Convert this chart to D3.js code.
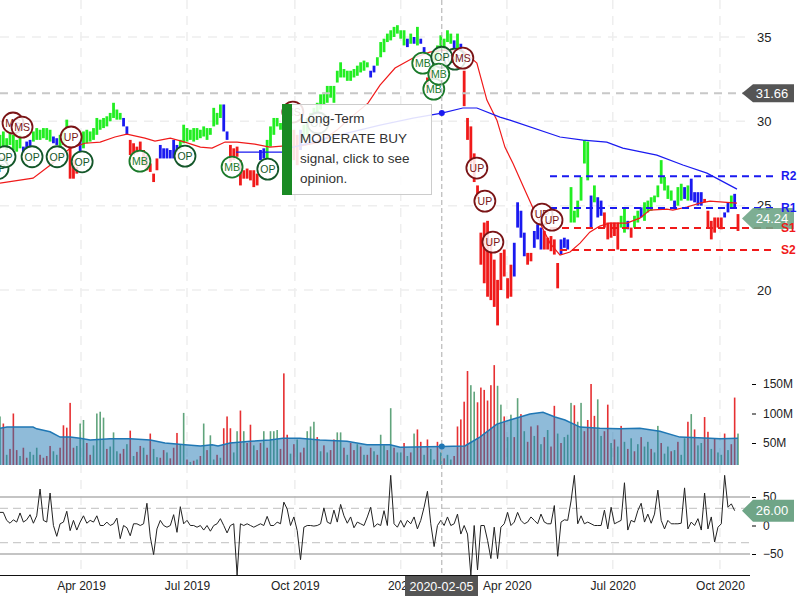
<!DOCTYPE html>
<html><head><meta charset="utf-8">
<script src="https://cdnjs.cloudflare.com/ajax/libs/d3/7.8.5/d3.min.js"></script>
<style>html,body{margin:0;padding:0;background:#fff}svg{display:block;font-family:"Liberation Sans",Arial,sans-serif}</style>
</head><body><svg id="c" width="800" height="600"></svg>
<script>
// Sessions run on a two-trading-day grid: index 0..221
const tickIndex = [24.25, 56, 88.3, 120, 151.8, 183.5, 215.6];
const tickLabels = ["Apr 2019","Jul 2019","Oct 2019","2020","Apr 2020","Jul 2020","Oct 2020"];
const priceTicks = [20,25,30,35];
const volumeTicks = [50,100,150];
const cciTicks = [-50,0,50];

const priceHigh = [
29.2,29.4,29.0,29.5,29.2,28.9,29.2,28.5,28.8,28.9,
29.4,29.6,29.5,29.6,29.6,29.5,29.1,29.0,29.2,29.5,
30.1,28.5,27.7,27.3,28.9,29.4,29.5,29.4,29.6,30.2,
30.1,30.2,30.3,30.5,31.1,30.7,30.5,30.2,29.7,28.9,
28.7,28.5,28.8,28.3,28.0,27.5,26.9,27.8,28.6,28.4,
28.4,28.3,28.9,28.6,28.9,29.8,29.6,29.5,29.6,29.6,
29.5,29.7,29.6,29.6,30.8,30.5,31.0,31.0,29.4,28.6,
28.4,28.5,27.7,27.1,27.2,27.1,27.1,26.9,28.3,28.4,
28.9,29.7,30.2,30.2,29.9,29.8,29.8,29.6,29.5,29.2,
29.5,29.8,30.2,30.5,30.8,31.1,31.6,31.7,32.1,32.1,
32.1,33.0,33.5,33.1,33.0,33.0,33.1,33.3,33.5,33.6,
33.5,33.0,33.3,33.8,34.7,34.9,35.2,35.4,35.6,35.7,
35.4,35.4,34.9,35.2,35.0,35.6,34.9,34.4,32.6,33.3,
34.2,34.5,35.1,34.9,35.4,35.2,34.8,35.2,34.6,33.0,
30.2,29.7,28.1,26.2,23.4,24.0,24.1,23.0,21.8,20.6,
22.2,22.4,20.7,21.5,22.8,25.2,24.7,23.4,22.2,22.2,
23.5,23.9,23.7,23.5,23.1,23.2,23.0,21.6,23.0,23.1,
23.0,26.1,24.7,25.3,26.7,28.9,28.8,25.6,26.2,25.5,
25.3,24.6,24.0,24.0,24.0,24.0,24.4,24.9,24.1,23.7,
24.4,24.7,24.9,25.2,25.3,25.5,25.6,26.2,27.7,26.7,
26.2,25.9,25.3,26.1,26.3,26.1,26.2,26.6,25.8,25.8,
25.8,25.4,24.7,24.1,24.3,24.3,24.3,24.6,25.2,25.6,
25.7,24.5];
const priceLow = [
28.4,28.5,28.3,28.6,28.3,28.2,28.4,28.1,28.4,28.5,
28.8,28.9,28.9,29.0,28.9,28.8,28.7,28.6,28.5,28.6,
29.6,26.6,26.6,26.9,28.2,28.4,28.7,28.8,28.9,29.2,
29.5,29.6,29.7,30.0,30.2,30.1,30.1,29.7,29.2,28.0,
28.0,28.1,28.2,27.4,27.1,27.0,26.4,27.1,27.8,27.8,
27.8,27.8,27.8,28.2,28.3,28.7,28.8,28.9,28.8,28.9,
29.0,29.1,28.9,29.2,29.7,29.8,30.2,29.4,28.9,27.6,
27.7,27.9,26.2,26.6,26.6,26.5,26.1,26.2,27.7,27.8,
27.8,28.5,29.2,29.7,29.5,29.4,29.2,28.3,27.7,27.4,
28.3,28.9,29.2,29.8,29.8,30.2,30.7,31.0,31.1,31.4,
31.1,32.3,32.6,32.6,32.4,32.4,32.6,32.7,32.9,33.0,
33.2,32.6,32.9,33.3,33.8,34.1,34.7,34.8,35.0,35.2,
34.9,34.5,34.4,34.6,34.6,34.5,34.6,34.1,32.0,32.4,
33.0,33.6,34.2,34.3,34.7,34.6,34.2,34.3,34.2,30.9,
28.9,27.5,26.4,25.4,21.5,20.4,19.6,19.4,19.0,17.9,
20.0,20.8,19.5,19.6,20.8,23.7,23.1,22.0,21.5,21.7,
22.5,23.0,22.4,22.4,22.4,22.3,22.1,20.1,22.1,22.5,
22.4,24.0,24.0,24.3,25.3,27.5,26.5,23.7,25.2,24.3,
24.4,23.7,23.0,23.1,23.2,22.4,23.7,23.4,23.6,23.1,
23.7,24.0,24.3,24.1,24.6,24.7,25.2,25.5,26.3,25.9,
25.4,25.3,24.9,25.0,25.3,25.4,25.3,25.3,25.2,25.0,
25.0,25.2,23.7,23.0,23.4,23.7,23.6,24.3,24.6,24.9,
24.9,23.5];
const trendLengths = [7,3,6,2,3,3,1,12,2,9,6,13,2,9,2,8,2,1,20,2,9,1,1,1,1,2,2,6,1,1,1,15,4,2,3,5,3,6,1,1,2,5,2,1,1,2,1,9,1,2,1,1,4,6,2,1,1,1];
const trendCodes   = "gbgbgrbgbrbgbrbgrbgbgbgbgbrgbgbrbrbrbgbgbrgbrgbgbgbgbrbgbr";

const ma50Index = [0,9.9,15,21,25.4,30,34.4,38,43.4,46.4,51,55.4,60,63.5,67.4,71,76.3,80.8,84.4,89.8,95.8,100.9,104.8,110.2,113.8,118.3,123.7,128.7,133.2,138.6,142.8,145.8,148.8,151.2,153.6,157.2,159.6,162.3,164.7,167.7,170.7,173.7,176.6,179.6,182.6,187.7,191.6,194.6,199.7,201.5,205.7,209.6,212.6,220.7];
const ma50Value = [26.34,26.63,27.4,28.4,28.7,28.77,29.07,29.24,29.0,28.83,29.0,28.77,28.47,28.41,28.77,28.77,28.65,28.47,28.53,28.53,28.77,29.48,30.19,31.08,32.15,33.16,33.75,34.1,34.22,34.2,33.45,31.26,30.07,28.47,27.52,25.92,24.86,23.73,22.78,22.07,22.25,22.78,23.43,23.79,23.97,23.97,24.26,24.74,24.8,24.74,24.92,25.15,25.27,25.15];
const ma200Index = [70.7,84.7,86.8,103.9,113.8,123.7,132.3,138.6,142.8,149.7,152.7,167.7,174.6,181.7,186.5,196.7,204.5,211.7,220.7];
const ma200Value = [28.18,28.18,28.41,29.3,29.78,30.19,30.49,30.79,30.79,30.25,30.07,29.07,28.89,28.77,28.41,28.0,27.41,26.93,25.98];

const levelNames  = ["R2","R1","S1","S2"];
const levelValues = [26.75,24.86,23.67,22.37];
const levelStart  = [164.7,164.7,164.7,167.7];
const levelColors = ["#1a1af0","#1a1af0","#f01a1a","#f01a1a"];

const volume = [
95,83,30,40,100,38,28,42,25,35,
30,42,30,25,28,45,36,30,42,80,
76,118,42,45,83,89,50,30,46,100,
103,93,40,44,68,36,32,40,48,71,
28,35,45,42,30,66,40,26,25,38,
34,24,42,67,48,101,22,18,20,22,
28,83,38,63,22,30,25,75,95,75,
34,70,105,70,50,81,46,38,50,70,
42,70,70,72,40,168,64,32,48,56,
34,42,70,78,86,60,36,46,34,38,
56,68,68,42,30,50,38,48,44,30,
30,42,36,30,64,46,38,109,42,34,
34,50,28,34,66,73,52,30,56,40,
22,52,34,24,30,22,28,78,90,120,
172,148,137,119,144,140,122,148,182,147,
115,95,60,98,60,126,99,70,52,78,
62,80,48,60,72,44,113,66,50,60,
64,118,114,86,118,70,89,150,96,124,
62,70,115,50,56,44,79,52,40,58,
36,48,60,44,52,40,34,79,50,32,
44,36,38,52,30,58,86,99,73,46,
50,94,69,40,58,34,30,66,38,48,
127,66];
const volumeSide = "grgrrrgrrg"+"ggrrrrggrr"+"rrrgggrrgg"+"ggrgggrrgr"+"grrgrrggrr"+"grrrggrgrg"+"rgrggrgrrr"+"ggrgrrgrrg"+"rgggrrrgrg"+"rrgggrgrgr"+"rggrgrrgrg"+"rrgrggrgrg"+"grgrgrrgrg"+"grgrggrrrr"+"rggrrrrrrg"+"grggrgrgrr"+"grgrgrrgrg"+"ggrggrrrrg"+"grrgrgrgrg"+"rgrggrggrg"+"grgrggrgrg"+"grrgrggrgr"+"rg";
const volAvgIndex = [0,2.1,9.9,11,15,18,21,24,27,33,39,45,49.4,55.4,60,63.5,65.3,68.9,74.9,80.8,84.7,89.8,95.8,103.9,109.9,116.8,119.8,132.3,139.2,140.7,143.7,148.8,152.7,158.7,162.6,166.2,169.2,173.7,179.6,185.6,191.6,197.6,203.6,212.6,215.6,221];
const volAvgValue = [75,77,77,74,69,60,60,58,55,57,57,55,50,47,45,47,45,50,53,55,58,58,55,53,47,47,43,44,45,50,60,82,89,99,102,94,89,77,75,74,75,70,60,58,57,58];

const cci = [
23,23,9,4,10,6,22,6,10,19,4,17,64,9,6,57,0,-19,3,6,
25,-9,9,-8,6,17,4,9,6,17,0,0,6,0,3,13,-23,0,-4,-18,
3,3,0,3,39,-20,-51,-6,9,0,-3,0,19,-12,33,3,9,0,0,-3,
0,-8,0,-10,0,3,12,0,-13,0,3,-87,3,0,3,0,-3,0,3,0,
16,0,0,6,3,41,29,0,15,-9,-60,-3,0,0,-1,0,3,31,6,3,
27,6,37,17,4,15,-4,6,3,0,15,32,-3,3,0,26,0,88,3,-3,
9,-3,9,3,15,-6,9,32,60,3,-37,0,9,0,15,0,3,20,-15,0,
-15,-87,0,-78,0,0,-26,-58,-3,-58,-3,3,23,0,6,23,9,3,6,15,
9,3,20,6,3,3,35,-54,6,10,9,43,88,3,17,3,6,3,0,0,
0,27,-6,32,3,6,9,75,-8,9,6,26,39,6,20,4,20,62,9,-6,
9,3,3,3,4,66,-6,6,0,12,-8,57,-6,15,-29,-3,3,88,32,38,26];
const cciBands = [-30,30];
const cciLimits = [-50,50];

const markerIndex = [-0.6,1.5,3.9,6.6,9.6,17.1,21.3,24.6,41.9,55.4,69.5,80.2,87.7,95.2,129.9,126.6,136.2,132.3,131.4,138.6,142.8,145.2,147.6,162.3,165.3];
const markerPrice = [27.2,27.9,29.9,29.66,27.9,27.9,29.07,27.6,27.64,27.94,27.29,27.17,30.55,29.9,31.91,33.45,33.69,33.8,32.8,33.75,27.23,25.27,22.84,24.5,24.14];
const markerLabel = ["OP","OP","MS","MS","OP","OP","UP","OP","MB","OP","MB","OP","MS","OP","MB","MB","OP","OP","MB","MS","UP","UP","UP","UP","UP"];

const cursorIndex = 132.3, cursorMa200 = 30.49, cursorVol = 44, cursorDate = "2020-02-05";
const lastPriceLine = 31.66, lastClose = 24.24, lastCci = 26.00;
const opinionLines = ["Long-Term","MODERATE BUY","signal, click to see","opinion."];

const svg = d3.select("#c");
const x = d3.scaleLinear().domain([0,221]).range([0,738]);
const yP = d3.scaleLinear().domain([20,35]).range([290,37]);
const yV = d3.scaleLinear().domain([0,150]).range([472.5,384]);
const yC = d3.scaleLinear().domain([-50,50]).range([554,497]);
const rightEdge = 750, volBottom = 465, cciTop = 474, cciBottom = 575;
const trendColor = {g:"#22ee22", b:"#1a1af0", r:"#f01a1a"};

const defs = svg.append("defs");
defs.append("clipPath").attr("id","clipP").append("rect").attr("x",0).attr("y",0).attr("width",rightEdge).attr("height",340);
defs.append("clipPath").attr("id","clipV").append("rect").attr("x",0).attr("y",360).attr("width",rightEdge).attr("height",volBottom-360);
defs.append("clipPath").attr("id","clipC").append("rect").attr("x",0).attr("y",cciTop).attr("width",rightEdge).attr("height",cciBottom-cciTop);

// grid
const grid = svg.append("g");
grid.selectAll("line.v").data(tickIndex).join("line").attr("class","v")
  .attr("x1",d=>x(d)).attr("x2",d=>x(d)).attr("y1",0).attr("y2",cciBottom)
  .attr("stroke","#eeeeee").attr("stroke-width",1.5).attr("stroke-dasharray","9 7");
grid.selectAll("line.h").data(priceTicks).join("line").attr("class","h")
  .attr("x1",0).attr("x2",rightEdge).attr("y1",d=>yP(d)).attr("y2",d=>yP(d))
  .attr("stroke","#eeeeee").attr("stroke-width",1.5).attr("stroke-dasharray","9 7");

// price bars
const trend = trendLengths.flatMap((n,i)=>Array(n).fill(trendCodes[i]));
const pG = svg.append("g").attr("clip-path","url(#clipP)");
pG.selectAll("rect").data(priceHigh).join("rect")
  .attr("x",(d,i)=>x(i)-1.4).attr("width",2.8)
  .attr("y",d=>yP(d)).attr("height",(d,i)=>yP(priceLow[i])-yP(d))
  .attr("fill",(d,i)=>trendColor[trend[i]]);

// moving averages
const lineGen = d3.line().x(d=>x(d[0])).y(d=>yP(d[1]));
pG.append("path").attr("d",lineGen(d3.zip(ma50Index,ma50Value))).attr("fill","none").attr("stroke","#f01a1a").attr("stroke-width",1.2);
pG.append("path").attr("d",lineGen(d3.zip(ma200Index,ma200Value))).attr("fill","none").attr("stroke","#1a1af0").attr("stroke-width",1.2);

// last price dashed
svg.append("line").attr("x1",0).attr("x2",rightEdge).attr("y1",yP(lastPriceLine)).attr("y2",yP(lastPriceLine))
  .attr("stroke","#c8c8c8").attr("stroke-width",2).attr("stroke-dasharray","8 6");

// y axis main
const axP = svg.append("g").attr("transform",`translate(${rightEdge},0)`)
  .call(d3.axisRight(yP).tickValues(priceTicks).tickSize(0).tickPadding(7));
axP.select(".domain").remove();
axP.selectAll("text").attr("font-size",13).attr("font-family","Liberation Sans").attr("fill","#222");

// levels
levelNames.forEach((n,k)=>{
  svg.append("line").attr("x1",x(levelStart[k])).attr("x2",775).attr("y1",yP(levelValues[k])).attr("y2",yP(levelValues[k]))
    .attr("stroke",levelColors[k]).attr("stroke-width",2).attr("stroke-dasharray","7 5");
});

// markers
const markerStyle = {OP:["#14572a","#14572a"],MB:["#1a7a2a","#1a7a2a"],MS:["#7a1416","#7a1416"],UP:["#7a1416","#7a1416"]};
const mG = svg.append("g").selectAll("g").data(markerLabel).join("g")
  .attr("transform",(d,i)=>`translate(${x(markerIndex[i])},${yP(markerPrice[i])})`);
mG.append("circle").attr("r",10.5).attr("fill","#fff").attr("fill-opacity",0.85)
  .attr("stroke",d=>markerStyle[d][0]).attr("stroke-width",1.8);
mG.append("text").text(d=>d).attr("text-anchor","middle").attr("dy","0.36em")
  .attr("font-size",10.5).attr("fill",d=>markerStyle[d][1]);

// volume
const vG = svg.append("g").attr("clip-path","url(#clipV)");
vG.selectAll("rect").data(volume).join("rect")
  .attr("x",(d,i)=>x(i)-0.8).attr("width",1.6)
  .attr("y",d=>yV(d)).attr("height",d=>volBottom-yV(d))
  .attr("fill",(d,i)=>volumeSide[i]==="r"?"#e31a1c":"#4f9a6e").attr("fill-opacity",0.9);
const avg = d3.zip(volAvgIndex,volAvgValue);
vG.append("path").attr("d",d3.area().x(d=>x(d[0])).y0(volBottom).y1(d=>yV(d[1]))(avg))
  .attr("fill","#1f77b4").attr("fill-opacity",0.5);
vG.append("path").attr("d",d3.line().x(d=>x(d[0])).y(d=>yV(d[1]))(avg))
  .attr("fill","none").attr("stroke","#1f77b4").attr("stroke-width",1.5);

const axV = svg.append("g").attr("transform",`translate(${rightEdge+2},0)`)
  .call(d3.axisRight(yV).tickValues(volumeTicks).tickSize(4).tickPadding(7).tickFormat(d=>d+"M"));
axV.select(".domain").remove();
axV.selectAll("text").attr("font-size",12).attr("font-family","Liberation Sans").attr("fill","#222");

// CCI
cciLimits.forEach(v=>svg.append("line").attr("x1",0).attr("x2",rightEdge).attr("y1",yC(v)).attr("y2",yC(v)).attr("stroke","#b0b0b0").attr("stroke-width",1.5));
cciBands.forEach(v=>svg.append("line").attr("x1",0).attr("x2",rightEdge).attr("y1",yC(v)).attr("y2",yC(v)).attr("stroke","#cccccc").attr("stroke-width",1.2).attr("stroke-dasharray","8 5"));
svg.append("g").attr("clip-path","url(#clipC)").append("path")
  .attr("d",d3.line().x((d,i)=>x(i)).y(d=>yC(d))(cci))
  .attr("fill","none").attr("stroke","#222").attr("stroke-width",1);
const axC = svg.append("g").attr("transform",`translate(${rightEdge+2},0)`)
  .call(d3.axisRight(yC).tickValues(cciTicks).tickSize(4).tickPadding(7).tickFormat(d3.format("d")));
axC.select(".domain").remove();
axC.selectAll("text").attr("font-size",12).attr("font-family","Liberation Sans").attr("fill","#222");

// x axis
const axX = svg.append("g").attr("transform",`translate(0,${cciBottom})`)
  .call(d3.axisBottom(x).tickValues(tickIndex).tickSize(0).tickPadding(6).tickFormat((d,i)=>tickLabels[i]));
axX.select(".domain").remove();
axX.selectAll("text").attr("font-size",12).attr("font-family","Liberation Sans").attr("fill","#222");
svg.append("line").attr("x1",0).attr("x2",rightEdge).attr("y1",cciBottom+0.5).attr("y2",cciBottom+0.5).attr("stroke","#111").attr("stroke-width",1);

// crosshair
svg.append("line").attr("x1",x(cursorIndex)).attr("x2",x(cursorIndex)).attr("y1",0).attr("y2",cciBottom+15)
  .attr("stroke","#aaaaaa").attr("stroke-width",1).attr("stroke-dasharray","5 3");
svg.append("circle").attr("cx",x(cursorIndex)).attr("cy",yP(cursorMa200)).attr("r",3).attr("fill","#1a1af0");
svg.append("circle").attr("cx",x(cursorIndex)).attr("cy",yV(cursorVol)).attr("r",3).attr("fill","#1f77b4");

// date tag
svg.append("rect").attr("x",405).attr("y",576).attr("width",73).attr("height",20).attr("fill","#555");
svg.append("text").attr("x",441.5).attr("y",590.5).attr("text-anchor","middle").attr("font-size",12.5).attr("fill","#fff").text(cursorDate);

// opinion box
svg.append("rect").attr("x",282.5).attr("y",104.5).attr("width",149).attr("height",90).attr("fill","#fff").attr("fill-opacity",0.87).attr("stroke","#cccccc");
svg.append("rect").attr("x",282).attr("y",104).attr("width",10).attr("height",91).attr("fill","#1a8a24");
svg.selectAll("text.op").data(opinionLines).join("text").attr("class","op")
  .attr("x",300).attr("y",(d,i)=>123+i*20).attr("font-size",13.5).attr("fill","#333").text(d=>d);

// value tags
function tag(y,h,text,color,opacity){
  const tip=742, left=753, right=794;
  svg.append("path").attr("d",`M${tip},${y}L${left},${y-h/2}L${right},${y-h/2}L${right},${y+h/2}L${left},${y+h/2}Z`)
    .attr("fill",color).attr("fill-opacity",opacity);
  svg.append("text").attr("x",772).attr("y",y+4.5).attr("text-anchor","middle").attr("font-size",13).attr("fill","#fff").text(text);
}
tag(yP(lastPriceLine),18,lastPriceLine.toFixed(2),"#555",1);
tag(yP(lastClose),21,lastClose.toFixed(2),"#6fa587",0.9);
tag(yC(lastCci),22,lastCci.toFixed(2),"#6fa587",1);

// level labels
levelNames.forEach((n,k)=>{
  svg.append("text").attr("x",781).attr("y",yP(levelValues[k])+4).attr("font-size",12).attr("font-weight","bold")
    .attr("fill",levelColors[k]).text(n);
});
</script></body></html>
